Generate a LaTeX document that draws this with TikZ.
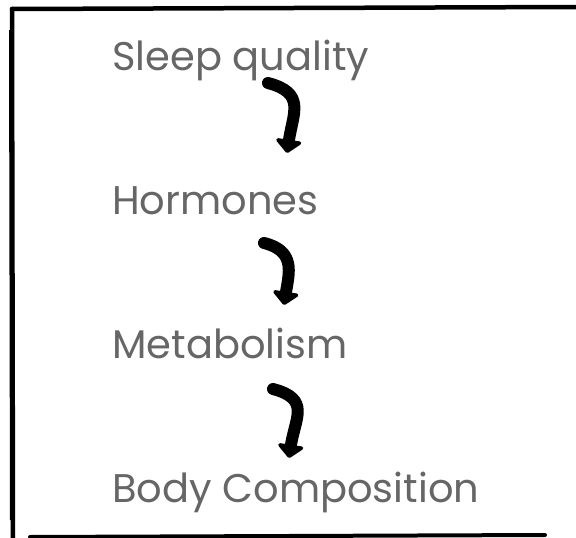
\documentclass[tikz,border=0pt]{standalone}
\usepackage{fontspec}
\setmainfont{Poppins}
\usetikzlibrary{arrows.meta,calc}
\definecolor{txt}{HTML}{666666}
\tikzset{
  lbl/.style={anchor=base west, inner sep=0pt, text=txt, font=\fontsize{40}{44}\selectfont},
  brush/.style={line width=12pt, line cap=round, -{Triangle[length=14pt,width=30pt,round]}},
  edge/.style={line width=4.5pt, line cap=round}
}
\begin{document}
\begin{tikzpicture}[x=1pt,y=-1pt]
\useasboundingbox (0,0) rectangle (576,538);
\fill[white] (0,0) rectangle (576,538);
% border
\draw[edge] (12,9) -- (576,7);
\draw[edge] (12,9) -- (13,538);
\draw[line width=2pt] (10,30) -- (11,520);
\draw[edge, line width=4pt] (30,537) -- (545,535);
% labels
\node[lbl] (sleep) at (112,70) {Sleep quality};
\node[lbl] (horm) at (112,214) {Hormones};
\node[lbl] (meta) at (112,358) {Metabolism};
\node[lbl] (body) at (112,502) {Body Composition};
% arrows
\draw[brush] ($(sleep.base west)+(156,13)$) .. controls +(38,10) and +(6,-40) .. ($(sleep.base west)+(175,83)$);
\draw[brush] ($(horm.base west)+(152,29)$) .. controls +(32,8) and +(5,-32) .. ($(horm.base west)+(172,91)$);
\draw[brush] ($(meta.base west)+(161,31)$) .. controls +(38,10) and +(6,-40) .. ($(meta.base west)+(177,100)$);
\end{tikzpicture}
\end{document}
